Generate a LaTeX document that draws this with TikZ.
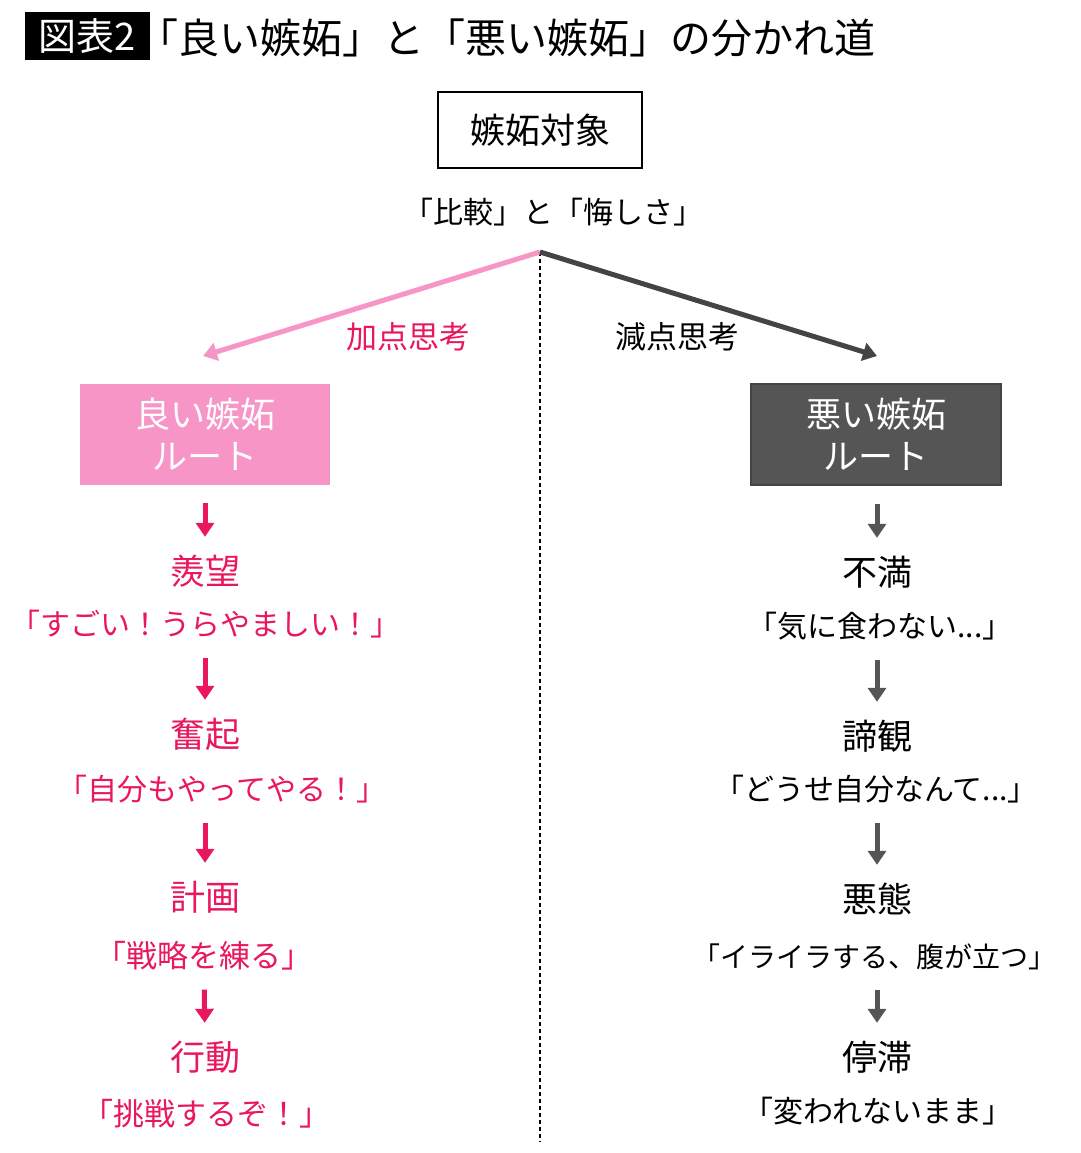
\documentclass[tikz,border=0pt]{standalone}
\usepackage{fontspec}
\setmainfont{Noto Sans CJK JP}
\usetikzlibrary{arrows.meta,positioning}
\definecolor{goodpink}{HTML}{F795C7}
\definecolor{goodred}{HTML}{E9175E}
\definecolor{badgrey}{HTML}{555555}
\definecolor{badline}{HTML}{444444}
\begin{document}
\begin{tikzpicture}[x=1pt,y=-1pt,
  word/.style={inner sep=0pt,text height=29pt,text depth=5pt,font=\fontsize{35}{40}\selectfont},
  quote/.style={inner sep=0pt,text height=25pt,text depth=4pt,font=\fontsize{30}{33}\selectfont},
  route/.style={minimum width=250pt,minimum height=101pt,align=center,text=white,font=\fontsize{35}{42}\selectfont},
  down/.style={line width=5pt,-{Triangle[width=18pt,length=14pt]},shorten <=18pt,shorten >=18pt},
  slant/.style={line width=5pt,-{Triangle[width=18pt,length=14pt]}}]
\useasboundingbox (0,0) rectangle (1080,1153);
% title
\node[fill=black,text=white,inner sep=0pt,minimum width=125pt,minimum height=48pt,font=\fontsize{38}{40}\selectfont] (tag) at (87.5,36) {図表2};
\node[anchor=west,inner sep=0pt,font=\fontsize{41}{44}\selectfont] (title) at (137,38) {「良い嫉妬」と「悪い嫉妬」の分かれ道};
% top
\node[draw,line width=2pt,minimum width=204pt,minimum height=76pt,font=\fontsize{35}{40}\selectfont] (target) at (540,130) {嫉妬対象};
\node[inner sep=0pt,font=\fontsize{30}{34}\selectfont] (compare) at (553,212) {「比較」と「悔しさ」};
\coordinate (split) at (540,252);
\coordinate (bottom) at (540,1142);
\coordinate (gtip) at (203,356);
\coordinate (btip) at (877,356);
\draw[line width=1.3pt,dash pattern=on 4pt off 3pt] (split) -- (bottom);
\draw[slant,goodpink] (split) -- (gtip);
\draw[slant,badline] (split) -- (btip);
\node[text=goodred,inner sep=0pt,font=\fontsize{31}{34}\selectfont] (plus) at (408,337) {加点思考};
\node[inner sep=0pt,font=\fontsize{31}{34}\selectfont] (minus) at (677,337) {減点思考};
% good route
\node[route,fill=goodpink] (gbox) at (205,434.5) {良い嫉妬\\ルート};
\node[word,text=goodred] (g1) at (205,572) {羨望};
\node[quote,text=goodred] (gq1) at (205,625) {「すごい！うらやましい！」};
\node[word,text=goodred] (g2) at (205,735) {奮起};
\node[quote,text=goodred] (gq2) at (222,790) {「自分もやってやる！」};
\node[word,text=goodred] (g3) at (205,898) {計画};
\node[quote,text=goodred,font=\fontsize{31}{34}\selectfont] (gq3) at (204,957) {「戦略を練る」};
\node[word,text=goodred] (g4) at (205,1058) {行動};
\node[quote,text=goodred,font=\fontsize{31}{34}\selectfont] (gq4) at (206,1115) {「挑戦するぞ！」};
\draw[down,goodred] (gbox) -- (g1);
\draw[down,goodred] (gq1) -- (g2);
\draw[down,goodred] ([xshift=-17pt]gq2.south) -- (g3);
\draw[down,goodred] (gq3) -- (g4);
% bad route
\node[route,fill=badgrey,draw=badline,line width=1.5pt] (bbox) at (876,434.5) {悪い嫉妬\\ルート};
\node[word] (b1) at (877,573) {不満};
\node[quote] (bq1) at (880,627) {「気に食わない...」};
\node[word] (b2) at (877,737) {諦観};
\node[quote] (bq2) at (876,790) {「どうせ自分なんて...」};
\node[word] (b3) at (877,900) {悪態};
\node[quote,font=\fontsize{28}{32}\selectfont] (bq3) at (874,957) {「イライラする、腹が立つ」};
\node[word] (b4) at (877,1058) {停滞};
\node[quote] (bq4) at (878,1112) {「変われないまま」};
\draw[down,badgrey] (bbox.south -| b1) -- (b1);
\draw[down,badgrey] (bq1.south -| b1) -- (b2);
\draw[down,badgrey] (bq2.south -| b1) -- (b3);
\draw[down,badgrey] (bq3.south -| b1) -- (b4);
\end{tikzpicture}
\end{document}
